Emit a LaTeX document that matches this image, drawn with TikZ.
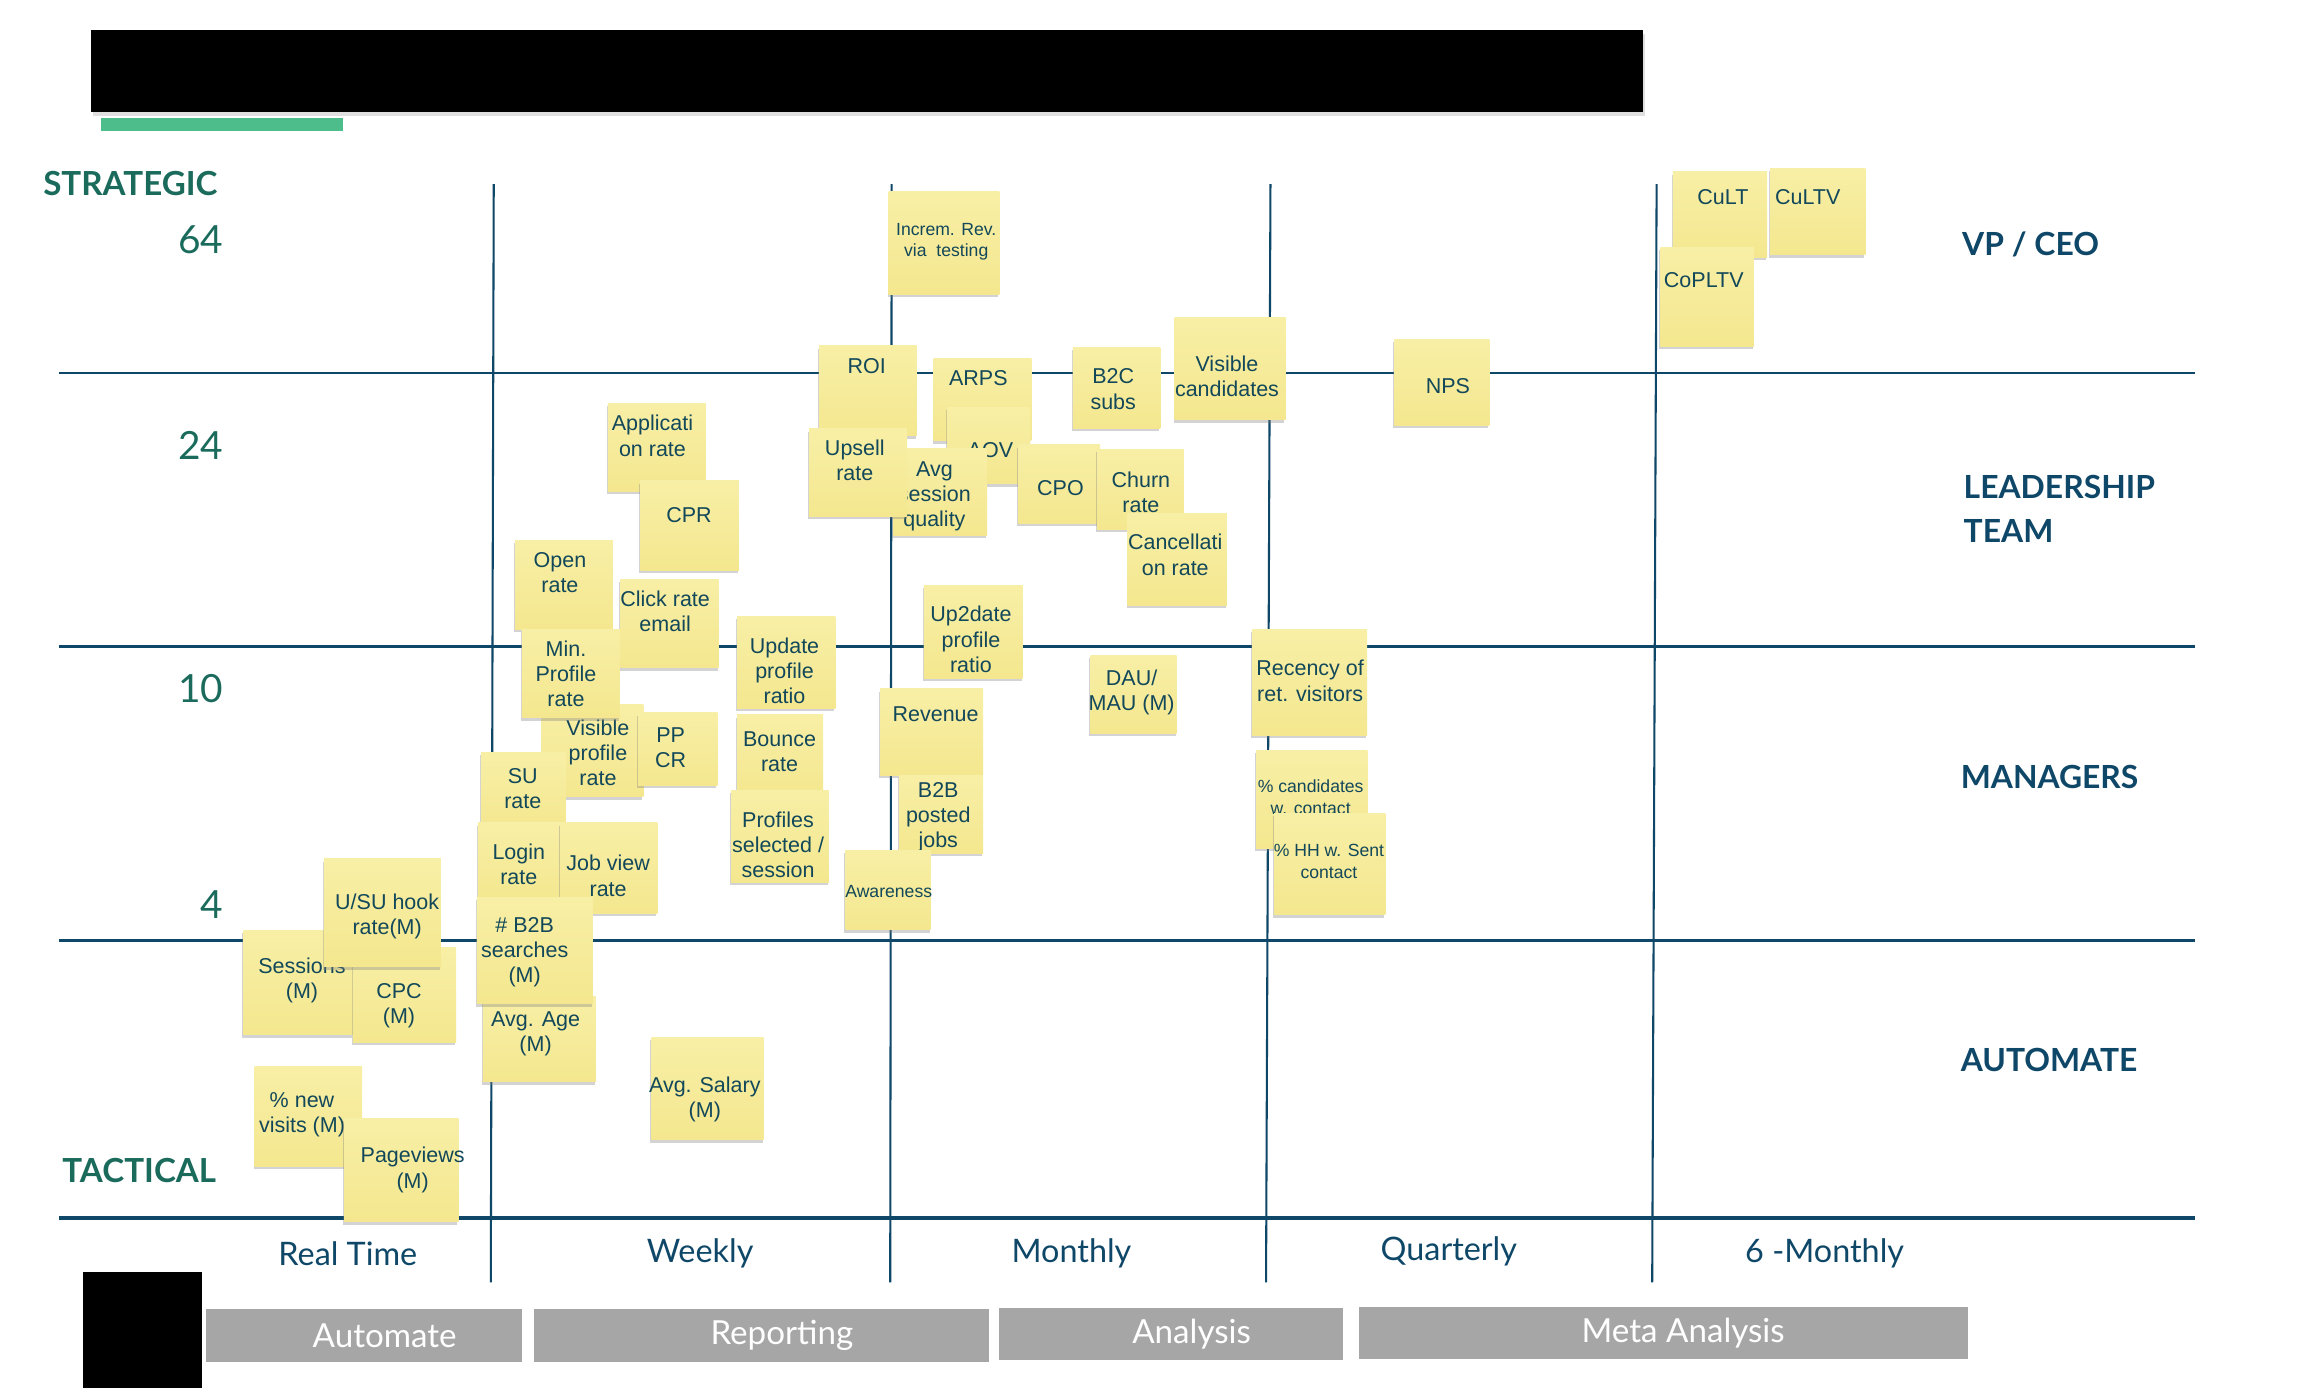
\documentclass[tikz,border=0pt]{standalone}
\usepackage{fontspec}
\setmainfont{Lato}
\newfontfamily\notefont{Liberation Sans}
\usetikzlibrary{shadows}

\definecolor{gridblue}{HTML}{0E4767}
\definecolor{axisgreen}{HTML}{1B6B5C}
\definecolor{notetop}{HTML}{F8EFA6}
\definecolor{notebottom}{HTML}{F4E78F}
\definecolor{notetxt}{HTML}{12485A}
\definecolor{phasegray}{HTML}{A6A6A6}
\definecolor{bargreen}{HTML}{4DBD8B}

% sticky note: [text style]{name}{top left}{bottom right}{text at}{text}
\newcommand{\sticky}[6][notetext]{%
    \path[note] (#3) rectangle (#4);
    \node[#1] (#2) at (#5) {#6};
}

\begin{document}
\begin{tikzpicture}[x=0.02cm, y=-0.02cm,
    gridline/.style={gridblue, line width=1.05pt},
    note/.style={top color=notetop, bottom color=notebottom, drop shadow={shadow xshift=-0.4pt, shadow yshift=-1.1pt, opacity=0.35}},
    notetext/.style={text=notetxt, font=\notefont\fontsize{8.3}{9.7}\selectfont, align=center, inner sep=0pt},
    smalltext/.style={notetext, font=\notefont\fontsize{6.8}{8.4}\selectfont},
    sidelabel/.style={text=axisgreen, font=\bfseries\fontsize{12.8}{15}\selectfont, inner sep=0pt, anchor=west},
    axisnum/.style={text=axisgreen, font=\fontsize{15}{18}\selectfont, inner sep=0pt, anchor=east},
    rolelabel/.style={text=gridblue, font=\bfseries\fontsize{12.3}{15}\selectfont, inner sep=0pt, anchor=west},
    period/.style={text=gridblue, font=\fontsize{12.5}{15}\selectfont, inner sep=0pt},
    phasebox/.style={fill=phasegray},
    phasetext/.style={text=white, font=\fontsize{12.8}{15}\selectfont, inner sep=0pt}]

    \useasboundingbox (0,0) rectangle (1568,942);

    % title bar
    \fill[black, drop shadow={shadow xshift=0.6pt, shadow yshift=-1.6pt, opacity=0.25}] (62,20.4) rectangle (1114.8,75.8);
    \fill[bargreen] (68.4,79.9) rectangle (232.5,88.7);
    \fill[black] (56,863) rectangle (137,942);

    % grid
    \foreach \y in {253, 438.5, 638.3}
        \draw[gridline] (40,\y) -- (1489,\y);
    \draw[gridline, line width=1.6pt] (40,826.6) -- (1489,826.6);
    \foreach \xt/\xb in {335/333, 605/604, 862/859, 1124/1121}
        \draw[gridline, line width=0.8pt] (\xt,125) -- (\xb,870);

    % left axis
    \node[sidelabel] (strategic) at (29,124.5) {STRATEGIC};
    \node[sidelabel] (tactical) at (42,794.4) {TACTICAL};
    \node[axisnum] (n64) at (152,162.7) {64};
    \node[axisnum] (n24) at (152,302) {24};
    \node[axisnum] (n10) at (152,467) {10};
    \node[axisnum] (n4) at (152,613.5) {4};

    % right labels
    \node[rolelabel] (vpceo) at (1331,165.6) {VP / CEO};
    \node[rolelabel] (leader) at (1332,330.7) {LEADERSHIP};
    \node[rolelabel] (team) at (1332,360.5) {TEAM};
    \node[rolelabel] (managers) at (1330,527) {MANAGERS};
    \node[rolelabel] (automate) at (1330,719) {AUTOMATE};

    % periods
    \node[period] (realtime) at (236,850.3) {Real Time};
    \node[period] (weekly) at (475,850.3) {Weekly};
    \node[period] (monthly) at (727,850.3) {Monthly};
    \node[period] (quarterly) at (983,849) {Quarterly};
    \node[period] (sixmonthly) at (1238,850.3) {6 -Monthly};

    % phases
    \path[phasebox] (140,888) rectangle (354,924);
    \path[phasebox] (362,888) rectangle (671,924);
    \path[phasebox] (678,887.4) rectangle (911,922.6);
    \path[phasebox] (922,886.7) rectangle (1335,921.9);
    \node[phasetext] (pauto) at (261,906) {Automate};
    \node[phasetext] (preport) at (530.5,906) {Reporting};
    \node[phasetext] (panalysis) at (808.5,905) {Analysis};
    \node[phasetext] (pmeta) at (1142,904.3) {Meta Analysis};

    % notes
    \sticky[smalltext]{incr}{603,130}{678,199.6}{642,164}{Increm. Rev.\\via\ \ testing}
    \sticky{cult}{1135,116.5}{1199,174.6}{1169,134}{CuLT}
    \sticky{cultv}{1201,114.2}{1265.6,173}{1226.5,133.4}{CuLTV}
    \sticky{copltv}{1126.5,167.8}{1190,235.2}{1156,190}{CoPLTV}
    \sticky{viscand}{797,215.2}{872.2,284.8}{832.5,255.6}{Visible\\candidates}
    \sticky{nps}{946,230.3}{1010.5,288.7}{982.4,262.2}{NPS}
    \sticky{b2c}{728,235.5}{787.3,290.8}{755.3,264}{B2C\\subs}
    \sticky{roi}{555.8,234.7}{622,295.8}{588,248.5}{ROI}
    \sticky{arps}{633.4,243.3}{699.7,299.1}{663.8,256.8}{ARPS}
    \sticky{aov}{642.4,276.2}{699,328.2}{672,305.6}{AOV}
    \sticky{avgsess}{606.2,304.4}{669.7,363}{634,336.8}{Avg\\session\\quality}
    \sticky{upsell}{549,291}{615.5,350.4}{580,312.2}{Upsell\\rate}
    \sticky{cpo}{691,301.7}{746.4,354.9}{719.5,331.1}{CPO}
    \sticky{churn}{744.4,305}{803.3,359.3}{774.1,333.8}{Churn\\rate}
    \sticky{cancel}{765.1,348.5}{832.5,410.7}{797.4,376.4}{Cancellati\\on rate}
    \sticky{applic}{412.5,273.7}{478.9,333.5}{442.7,295.7}{Applicati\\on rate}
    \sticky{cpr}{434.4,326.2}{501.3,386.8}{467.5,349.6}{CPR}
    \sticky{open}{349.5,366.5}{415.8,427}{379.9,388.3}{Open\\rate}
    \sticky{click}{421,393}{487.6,453}{451.3,415}{Click rate\\email}
    \sticky{up2date}{626.8,397}{693.8,460.1}{658.8,433.8}{Up2date\\profile\\ratio}
    \sticky{update}{500.2,418.3}{566.8,480.4}{532.3,455}{Update\\profile\\ratio}
    \sticky{recency}{849.6,427.1}{927.5,499}{888.9,461.9}{Recency of\\ret. visitors}
    \sticky{dau}{739.8,444.5}{798.3,497.7}{767.8,469.8}{DAU/\\MAU (M)}
    \sticky{visprof}{367.5,477.7}{436.5,540.7}{405.7,511}{Visible\\profile\\rate}
    \sticky{minprof}{354,427}{420.6,487}{384,457}{Min.\\Profile\\rate}
    \sticky{ppcr}{433,483.7}{486.8,533}{455,507.3}{PP\\CR}
    \sticky{surate}{326.4,510.3}{384,563.5}{354.7,535.3}{SU\\rate}
    \sticky{bounce}{500.2,485}{558.5,538.8}{528.9,509.8}{Bounce\\rate}
    \sticky{profiles}{496,536.2}{562.4,598.7}{527.9,573}{Profiles\\selected /\\session}
    \sticky{revenue}{597.2,467.4}{667,525.9}{634.8,484.4}{Revenue}
    \sticky{b2bposted}{610,525.9}{667,579}{636.6,554.7}{B2B\\posted\\jobs}
    \sticky[smalltext]{awareness}{573.6,577}{631.4,630.9}{603,605}{Awareness}
    \sticky[smalltext]{pctcand}{852.2,509.3}{927.7,575.6}{889.3,541}{\% candidates\\w. contact}
    \sticky[smalltext]{pcthh}{864.4,551.8}{940,620.8}{901.7,584.6}{\% HH w. Sent\\contact}
    \sticky{login}{324.3,558.3}{381.4,611}{352,586.5}{Login\\rate}
    \sticky{jobview}{380,558.3}{446.1,619.7}{412.6,594.2}{Job view\\rate}
    \sticky{avgage}{327.7,676}{404.3,733.9}{363.4,701.7}{Avg. Age\\(M)}
    \sticky{b2bsearch}{323.6,609}{402.2,681.2}{356,646.2}{\# B2B\\searches\\(M)}
    \sticky{sessions}{165.1,631}{239.5,702.2}{204.9,665.5}{Sessions\\(M)}
    \sticky{cpc}{239.5,642.8}{309.5,707.4}{270.7,682.5}{CPC\\(M)}
    \sticky{usuhook}{219.8,582.8}{299.1,655.9}{262.7,621.9}{U/SU hook\\rate(M)}
    \sticky{avgsalary}{442,703.8}{518.1,773.4}{478.2,745.7}{Avg. Salary\\(M)}
    \sticky{newvisits}{172.7,723.7}{245.7,791.5}{204.9,756.2}{\% new\\visits (M)}
    \sticky{pageviews}{233.6,758.8}{311.1,828.9}{280,793.8}{Pageviews\\(M)}
\end{tikzpicture}
\end{document}
